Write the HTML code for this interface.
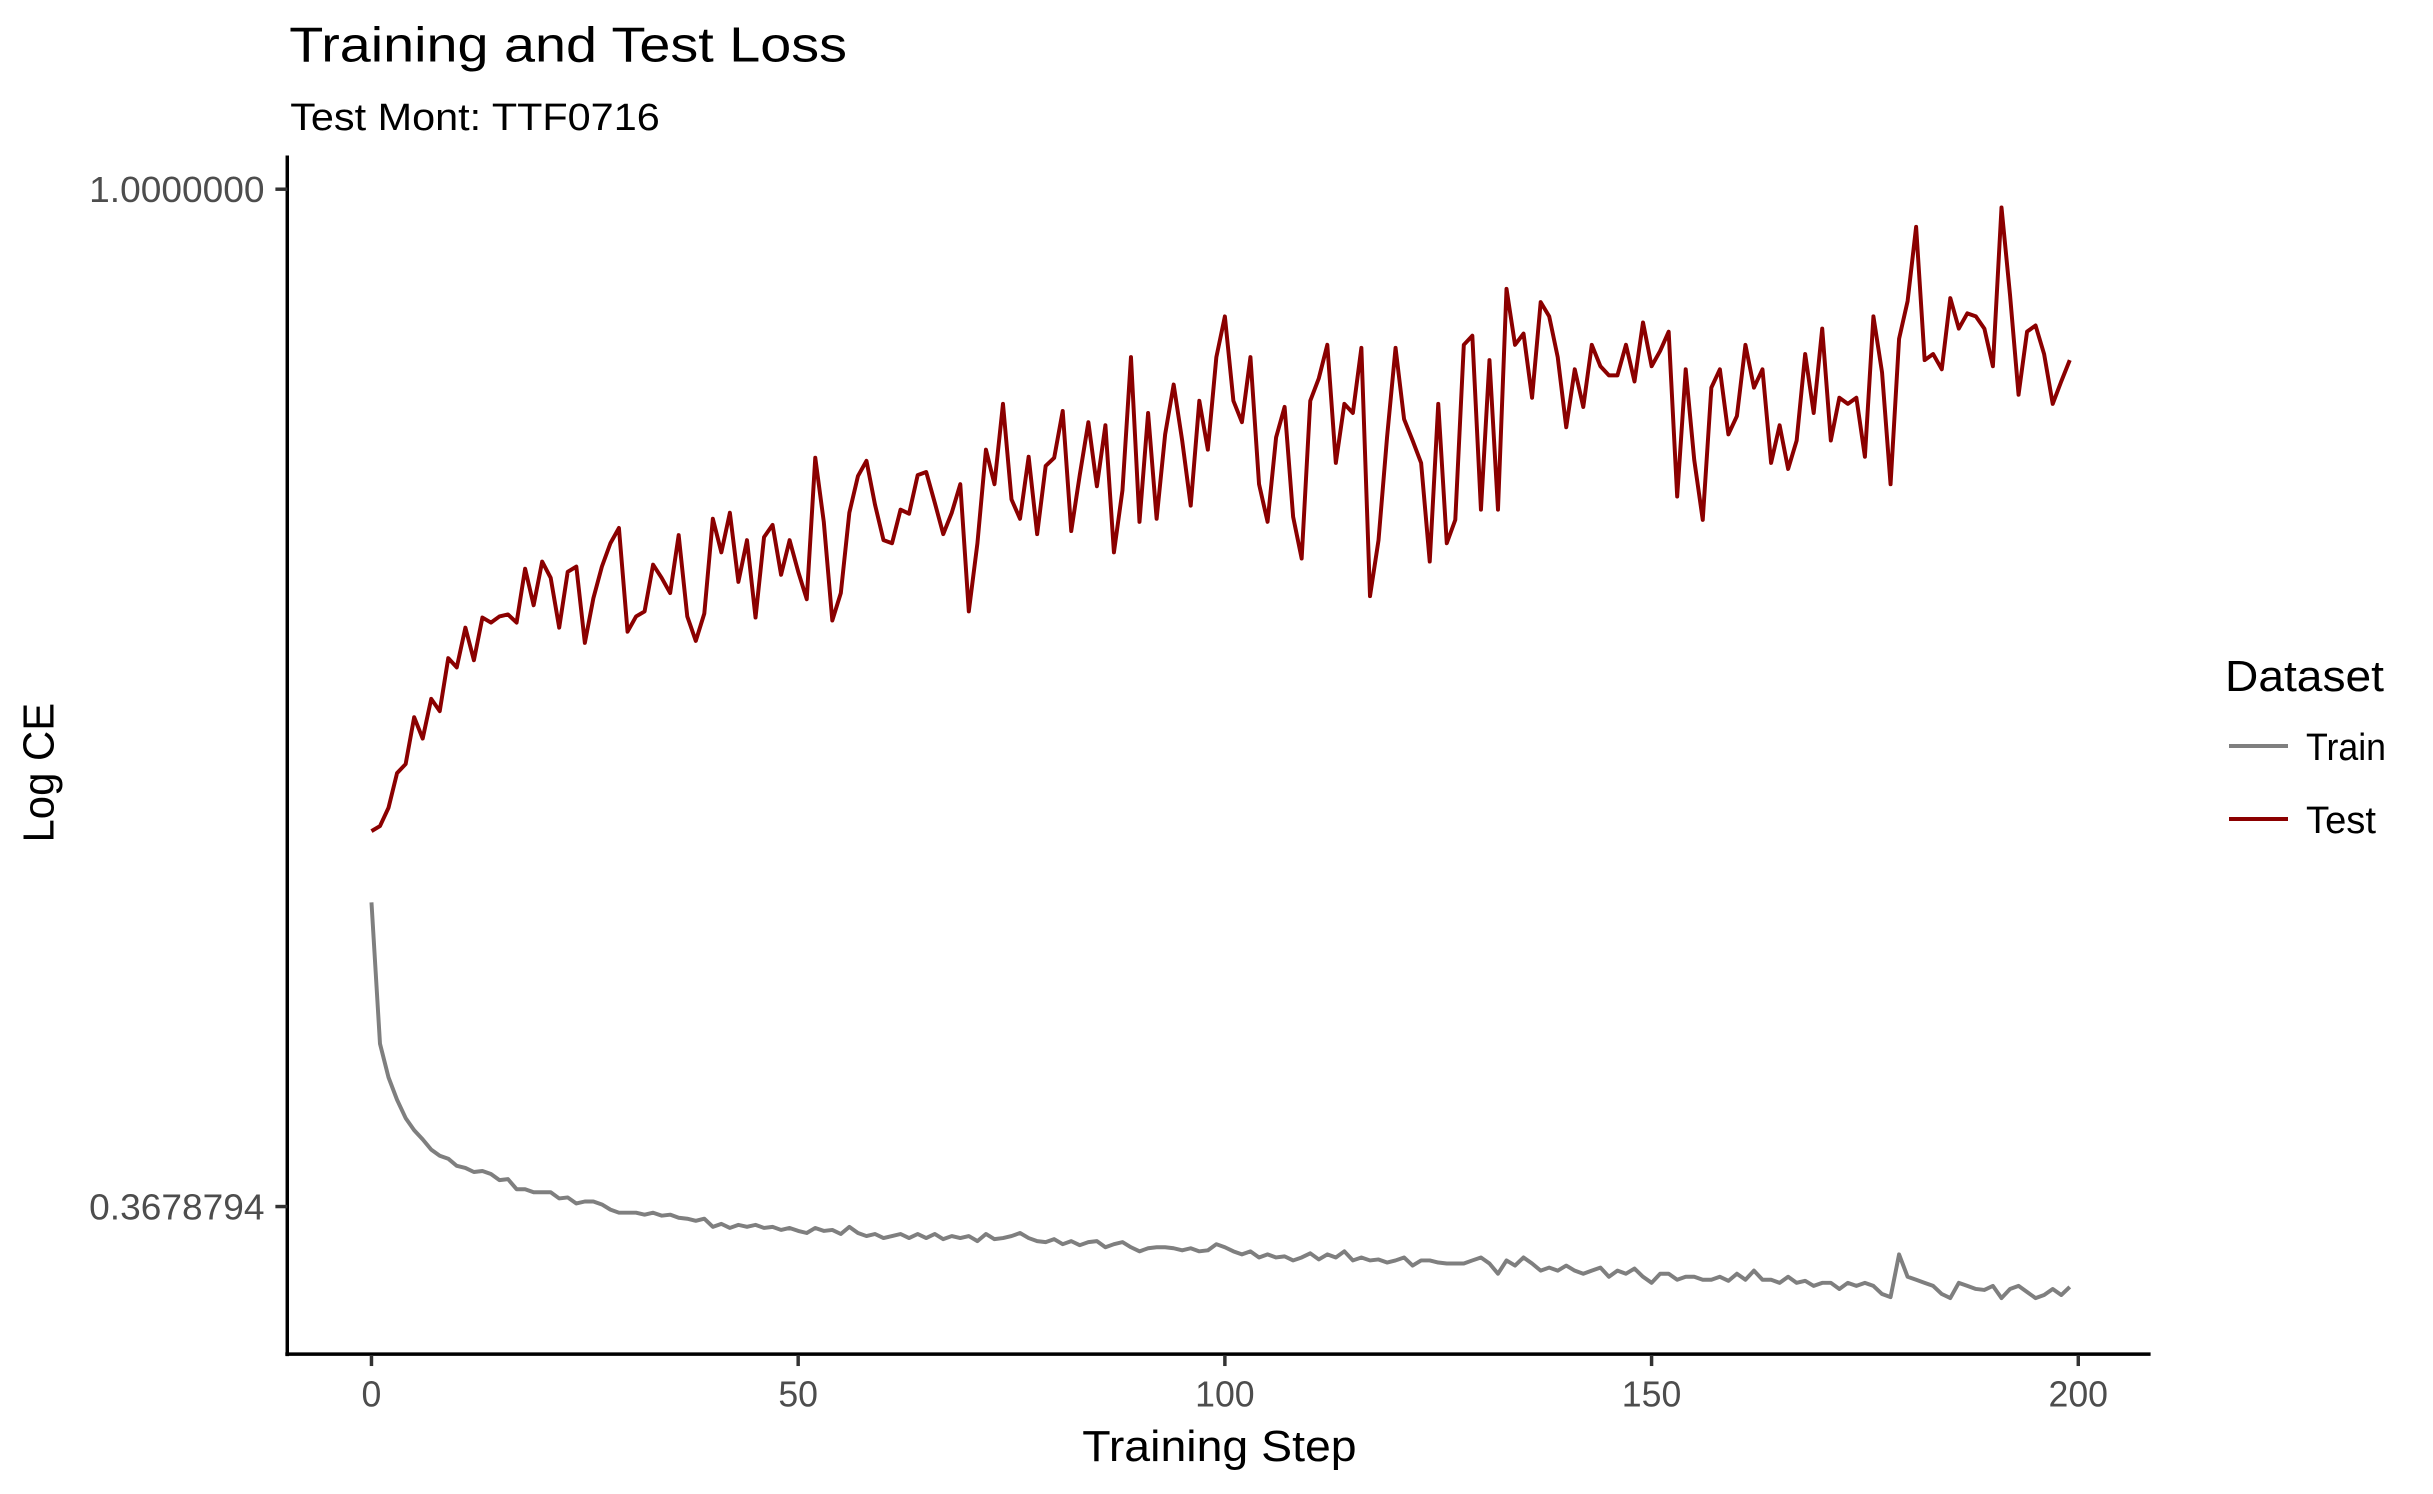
<!DOCTYPE html>
<html><head><meta charset="utf-8"><style>
html,body{margin:0;padding:0;background:#fff;}
svg{display:block;font-family:"Liberation Sans",Arial,sans-serif;}
</style></head><body>
<svg id="chart" width="2433" height="1494" viewBox="0 0 2433 1494">
<rect x="0" y="0" width="2433" height="1494" fill="#fff"/>
<g transform="scale(0.9906)">
<text x="292" y="62" font-size="50" textLength="563" lengthAdjust="spacingAndGlyphs">Training and Test Loss</text>
<text x="293" y="131" font-size="38" textLength="373" lengthAdjust="spacingAndGlyphs">Test Mont: TTF0716</text>
<g id="plot"></g>
<text x="1231" y="1475" font-size="44" text-anchor="middle" textLength="277" lengthAdjust="spacingAndGlyphs">Training Step</text>
<text transform="translate(54,780) rotate(-90)" font-size="44" text-anchor="middle" textLength="141" lengthAdjust="spacingAndGlyphs">Log CE</text>
</g>
<g>
<text x="2225" y="691" font-size="44" textLength="159" lengthAdjust="spacingAndGlyphs">Dataset</text>
<line x1="2229" y1="746" x2="2288" y2="746" stroke="#7f7f7f" stroke-width="4"/>
<text x="2306" y="760" font-size="38" textLength="80" lengthAdjust="spacingAndGlyphs">Train</text>
<line x1="2229" y1="819" x2="2288" y2="819" stroke="#8b0000" stroke-width="4"/>
<text x="2306" y="833" font-size="38" textLength="70" lengthAdjust="spacingAndGlyphs">Test</text>
</g>
</svg>
<script>
const xTicks = [0, 50, 100, 150, 200];
const yTicks = [0, -1];
const yTickLabels = ["1.0000000", "0.3678794"];
const testLog = [-.631,-.626,-.608,-.574,-.565,-.519,-.540,-.501,-.513,-.461,-.470,-.431,-.463,-.421,-.426,-.420,-.418,-.426,-.373,-.409,
-.366,-.382,-.431,-.376,-.371,-.446,-.402,-.371,-.348,-.333,-.435,-.420,-.415,-.369,-.382,-.397,-.340,-.420,-.444,-.417,
-.324,-.357,-.318,-.386,-.345,-.421,-.342,-.330,-.379,-.345,-.376,-.403,-.264,-.327,-.424,-.397,-.318,-.282,-.267,-.310,
-.345,-.348,-.315,-.319,-.281,-.278,-.308,-.339,-.318,-.290,-.415,-.348,-.256,-.290,-.211,-.305,-.324,-.263,-.339,-.272,
-.264,-.218,-.336,-.281,-.229,-.292,-.232,-.357,-.296,-.165,-.327,-.220,-.324,-.241,-.192,-.247,-.311,-.208,-.256,-.165,
-.125,-.208,-.229,-.165,-.290,-.327,-.244,-.214,-.322,-.363,-.208,-.186,-.153,-.269,-.211,-.220,-.156,-.400,-.345,-.244,
-.156,-.226,-.247,-.269,-.366,-.211,-.348,-.325,-.153,-.144,-.315,-.168,-.315,-.098,-.153,-.142,-.205,-.111,-.125,-.165,
-.234,-.177,-.214,-.153,-.174,-.183,-.183,-.153,-.189,-.131,-.174,-.159,-.140,-.302,-.177,-.266,-.325,-.195,-.177,-.241,
-.223,-.153,-.195,-.177,-.269,-.232,-.275,-.247,-.162,-.220,-.137,-.247,-.205,-.211,-.205,-.263,-.125,-.180,-.290,-.147,
-.110,-.037,-.168,-.162,-.177,-.107,-.137,-.122,-.125,-.137,-.174,-.018,-.104,-.202,-.140,-.134,-.162,-.211,-.189,-.168];
const trainLog = [-.701,-.840,-.873,-.895,-.913,-.925,-.934,-.944,-.950,-.953,-.960,-.962,-.966,-.965,-.968,-.974,-.973,-.983,-.983,-.986,
-.986,-.986,-.992,-.991,-.997,-.995,-.995,-.998,-1.003,-1.006,-1.006,
-1.006,-1.008,-1.006,-1.009,-1.008,-1.011,-1.012,-1.014,-1.012,-1.020,-1.017,-1.021,-1.018,-1.020,-1.018,-1.021,-1.020,-1.023,-1.021,-1.024,
-1.026,-1.021,-1.024,-1.023,-1.027,-1.020,-1.026,-1.029,-1.027,-1.031,-1.029,-1.027,-1.031,-1.027,-1.031,-1.027,-1.032,-1.029,-1.031,-1.029,-1.034,-1.027,-1.032,-1.031,-1.029,
-1.026,-1.031,-1.034,-1.035,-1.032,-1.037,-1.034,-1.038,-1.035,-1.034,-1.040,-1.037,-1.035,-1.040,-1.044,-1.041,-1.040,-1.040,-1.041,-1.043,-1.041,-1.044,-1.043,-1.037,-1.040,
-1.044,-1.047,-1.044,-1.050,-1.047,-1.050,-1.049,-1.053,-1.050,-1.046,-1.052,-1.047,-1.050,-1.044,-1.053,-1.050,-1.053,-1.052,-1.055,-1.053,-1.050,-1.058,-1.053,-1.053,-1.055,
-1.056,-1.056,-1.056,-1.053,-1.050,-1.056,-1.066,-1.053,-1.058,-1.050,-1.056,-1.063,-1.060,-1.063,-1.058,-1.063,-1.066,-1.063,-1.060,-1.069,-1.063,-1.066,-1.061,-1.069,-1.075,
-1.066,-1.066,-1.072,-1.069,-1.069,-1.072,-1.072,-1.069,-1.073,-1.066,-1.072,-1.063,-1.072,-1.072,-1.075,-1.069,-1.075,-1.073,-1.078,-1.075,-1.075,-1.081,-1.075,-1.078,-1.075,
-1.078,-1.086,-1.089,-1.047,-1.069,-1.072,-1.075,-1.078,-1.086,-1.090,-1.075,-1.078,-1.081,-1.082,-1.078,-1.090,-1.081,-1.078,-1.084,-1.090,-1.087,-1.081,-1.087,-1.079];

const NS = "http://www.w3.org/2000/svg";
const plot = document.getElementById("plot");
const xScale = s => 375 + (s - 0) * (2098 - 375) / 200;
const yScale = v => 191 + (0 - v) * (1218 - 191) / 1;
function mk(tag, attrs) {
  const e = document.createElementNS(NS, tag);
  for (const k in attrs) e.setAttribute(k, attrs[k]);
  plot.appendChild(e);
  return e;
}
function series(arr, color, name) {
  const d = arr.map((v, i) => (i ? "L" : "M") + xScale(i).toFixed(1) + "," + yScale(v).toFixed(1)).join(" ");
  const p = mk("path", {d: d, fill: "none", stroke: color, "stroke-width": 4, "stroke-linejoin": "round"});
  
  
}
series(trainLog, "#7f7f7f", "train-line");
series(testLog, "#8b0000", "test-line");

const ax = mk("line", {x1: 290, y1: 157, x2: 290, y2: 1369, stroke: "#000", "stroke-width": 3.5});


const bx = mk("line", {x1: 288, y1: 1367, x2: 2171, y2: 1367, stroke: "#000", "stroke-width": 3.5});



xTicks.forEach(t => {
  const x = xScale(t);
  const l = mk("line", {x1: x, y1: 1368, x2: x, y2: 1379, stroke: "#333", "stroke-width": 3.5});
  
  
  const tx = mk("text", {x: x, y: 1420, "font-size": 36, "text-anchor": "middle", fill: "#4d4d4d"});
  tx.textContent = String(t);
  
  
});
yTicks.forEach((t, i) => {
  const y = yScale(t);
  const l = mk("line", {x1: 278, y1: y, x2: 290, y2: y, stroke: "#333", "stroke-width": 3.5});
  
  
  const tx = mk("text", {x: 267, y: y + 13, "font-size": 36, "text-anchor": "end", fill: "#4d4d4d", textLength: 177, lengthAdjust: "spacingAndGlyphs"});
  tx.textContent = yTickLabels[i];
  
  
});
</script>
</body></html>
